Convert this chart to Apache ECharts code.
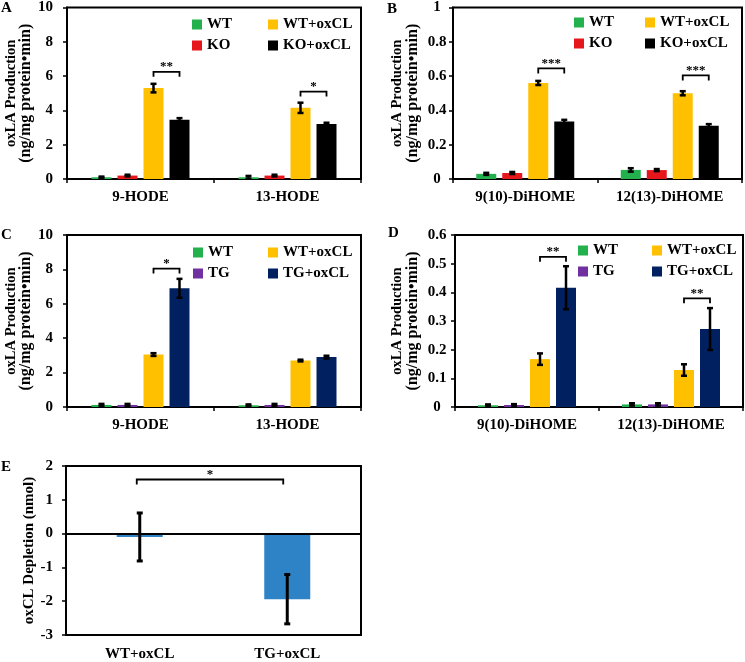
<!DOCTYPE html>
<html><head><meta charset="utf-8">
<script src="https://cdn.jsdelivr.net/npm/echarts@6/dist/echarts.min.js"></script>
<style>html,body{margin:0;padding:0;background:#fff}#c{width:745px;height:662px}</style>
</head><body><div id="c"></div>
<script>
const FONT = '"Liberation Serif","Times New Roman",serif';

// ---------- data ----------
const catsHODE = ['9-HODE', '13-HODE'];
const catsDiHOME = ['9(10)-DiHOME', '12(13)-DiHOME'];
const namesKO = ['WT', 'KO', 'WT+oxCL', 'KO+oxCL'];
const namesTG = ['WT', 'TG', 'WT+oxCL', 'TG+oxCL'];

// Panel A (ng/mg protein·min)
const aWT = [0.1, 0.1],   aWTerr = [0.04, 0.08];
const aKO = [0.2, 0.2],   aKOerr = [0.05, 0.05];
const aWTox = [5.3, 4.15], aWToxErr = [0.25, 0.3];
const aKOox = [3.45, 3.2], aKOoxErr = [0.1, 0.08];
const aSigCat = [0, 1], aSigY = [6.25, 5.1], aSigTxt = ['**', '*'];

// Panel B
const bWT = [0.03, 0.053],  bWTerr = [0.006, 0.01];
const bKO = [0.035, 0.052], bKOerr = [0.006, 0.006];
const bWTox = [0.56, 0.5],  bWToxErr = [0.012, 0.012];
const bKOox = [0.335, 0.31], bKOoxErr = [0.01, 0.01];
const bSigCat = [0, 1], bSigY = [0.645, 0.604], bSigTxt = ['***', '***'];

// Panel C
const cWT = [0.12, 0.1],  cWTerr = [0.06, 0.05];
const cTG = [0.12, 0.12], cTGerr = [0.06, 0.06];
const cWTox = [3.05, 2.7], cWToxErr = [0.08, 0.05];
const cTGox = [6.9, 2.9],  cTGoxErr = [0.55, 0.08];
const cSigCat = [0], cSigY = [8.05], cSigTxt = ['*'];

// Panel D
const dWT = [0.006, 0.009], dWTerr = [0.003, 0.004];
const dTG = [0.007, 0.009], dTGerr = [0.003, 0.004];
const dWTox = [0.167, 0.129], dWToxErr = [0.02, 0.02];
const dTGox = [0.416, 0.272], dTGoxErr = [0.075, 0.073];
const dSigCat = [0, 1], dSigY = [0.524, 0.379], dSigTxt = ['**', '**'];

// Panel E (nmol)
const eCats = ['WT+oxCL', 'TG+oxCL'];
const eVals = [-0.1, -1.94];
const eErr = [0.71, 0.73];
const eSigY = 1.6, eSigTxt = '*';

// ---------- styling ----------
const colKO = ['#22b14c', '#e5171c', '#ffc000', '#000000'];
const colTG = ['#22b14c', '#7030a0', '#ffc000', '#002060'];
const colE = '#2e83c6';

const grids = [
  {left: 67, top: 6, width: 294, height: 173},
  {left: 453, top: 6, width: 289, height: 173},
  {left: 67, top: 235, width: 294, height: 172},
  {left: 455, top: 235, width: 288, height: 172},
  {left: 66, top: 466, width: 295, height: 172}
].map(g => Object.assign(g, {show: true, borderColor: '#000', borderWidth: 2, backgroundColor: 'transparent'}));

const txt = {fontFamily: FONT, fontWeight: 'bold', color: '#000'};
const yName = '{a|oxLA Production}\n{b|(ng/mg protein•min)}';

const xAxes = [], yAxes = [], series = [];

function mkX(gi, cats, margin, ticks) {
  xAxes.push({
    type: 'category', gridIndex: gi, data: cats,
    axisLine: {onZero: false, lineStyle: {color: '#000', width: 2}},
    axisTick: {show: ticks, length: 4, lineStyle: {color: '#000', width: 1.5}},
    axisLabel: Object.assign({fontSize: 15, margin: margin}, txt),
    splitLine: {show: false}
  });
}
function mkY(gi, min, max, interval, name, nameGap, labelAlign, labelMargin) {
  yAxes.push({
    type: 'value', gridIndex: gi, min: min, max: max, interval: interval,
    name: name, nameLocation: 'middle', nameRotate: 90, nameGap: nameGap,
    nameTextStyle: Object.assign({fontSize: 14, lineHeight: 15,
      rich: {a: Object.assign({fontSize: 14.5, lineHeight: 15}, txt), b: Object.assign({fontSize: 16, lineHeight: 15}, txt)}}, txt),
    axisLine: {show: true, lineStyle: {color: '#000', width: 2}},
    axisTick: {show: true, length: 4, lineStyle: {color: '#000', width: 1.5}},
    axisLabel: Object.assign({fontSize: 15, margin: labelMargin, align: labelAlign}, txt),
    splitLine: {show: false}
  });
}

function errRender(offset, capW, lw) {
  return function (params, api) {
    const c = api.value(0), v = api.value(1), e = api.value(2);
    const t = api.coord([c, v + e]);
    const b = api.coord([c, v - e]);
    const x = t[0] + offset;
    const st = {stroke: '#000', lineWidth: lw};
    return {type: 'group', children: [
      {type: 'line', shape: {x1: x, y1: t[1], x2: x, y2: b[1]}, style: st},
      {type: 'line', shape: {x1: x - capW, y1: t[1], x2: x + capW, y2: t[1]}, style: st},
      {type: 'line', shape: {x1: x - capW, y1: b[1], x2: x + capW, y2: b[1]}, style: st}
    ]};
  };
}

function bracketGroup(x1, x2, yy, label) {
  return {type: 'group', children: [
    {type: 'polyline', shape: {points: [[x1, yy + 5], [x1, yy], [x2, yy], [x2, yy + 5]]},
     style: {stroke: '#000', fill: null, lineWidth: 1.8}},
    {type: 'text', style: {text: label, x: (x1 + x2) / 2, y: yy - 5, align: 'center', verticalAlign: 'middle',
      font: 'bold 13px ' + FONT, fill: '#000'}}
  ]};
}

function addPanel(gi, names, colors, vals, errs, sigCat, sigY, sigTxt) {
  const barW = 20, gap = 6, n = names.length, step = barW + gap;
  const offs = names.map((_, i) => (i - (n - 1) / 2) * step);
  names.forEach((nm, i) => {
    series.push({
      type: 'bar', name: nm, xAxisIndex: gi, yAxisIndex: gi,
      data: vals[i], barWidth: barW, barGap: (gap / barW * 100) + '%',
      itemStyle: {color: colors[i]}, z: 2
    });
    series.push({
      type: 'custom', name: 'err' + gi + '_' + i, xAxisIndex: gi, yAxisIndex: gi,
      data: vals[i].map((v, k) => [k, v, errs[i][k]]), encode: {x: 0, y: 1},
      renderItem: errRender(offs[i], 3, 2.5), z: 5, silent: true
    });
  });
  series.push({
    type: 'custom', name: 'sig' + gi, xAxisIndex: gi, yAxisIndex: gi,
    data: sigCat.map((c, k) => [c, sigY[k]]), encode: {x: 0, y: 1}, z: 6, silent: true,
    renderItem: function (params, api) {
      const p = api.coord([api.value(0), api.value(1)]);
      return bracketGroup(p[0] + offs[2], p[0] + offs[3], p[1], sigTxt[params.dataIndex]);
    }
  });
}

// Panel A
mkX(0, catsHODE, 11, true); mkY(0, 0, 10, 2, yName, 33, 'right', 14);
addPanel(0, namesKO, colKO, [aWT, aKO, aWTox, aKOox], [aWTerr, aKOerr, aWToxErr, aKOoxErr], aSigCat, aSigY, aSigTxt);
// Panel B
mkX(1, catsDiHOME, 11, true); mkY(1, 0, 1, 0.2, yName, 33, 'center', 16);
addPanel(1, namesKO, colKO, [bWT, bKO, bWTox, bKOox], [bWTerr, bKOerr, bWToxErr, bKOoxErr], bSigCat, bSigY, bSigTxt);
// Panel C
mkX(2, catsHODE, 11, true); mkY(2, 0, 10, 2, yName, 33, 'right', 14);
addPanel(2, namesTG, colTG, [cWT, cTG, cWTox, cTGox], [cWTerr, cTGerr, cWToxErr, cTGoxErr], cSigCat, cSigY, cSigTxt);
// Panel D
mkX(3, catsDiHOME, 11, true); mkY(3, 0, 0.6, 0.1, yName, 35, 'center', 18);
addPanel(3, namesTG, colTG, [dWT, dTG, dWTox, dTGox], [dWTerr, dTGerr, dWToxErr, dTGoxErr], dSigCat, dSigY, dSigTxt);
// Panel E
mkX(4, eCats, 12, false); mkY(4, -3, 2, 1, 'oxCL Depletion (nmol)', 28, 'right', 13);
yAxes[4].nameTextStyle = Object.assign({fontSize: 15}, txt);
series.push({
  type: 'bar', name: 'oxCL Depletion', xAxisIndex: 4, yAxisIndex: 4, data: eVals, barWidth: 46,
  itemStyle: {color: colE}, z: 2,
  markLine: {silent: true, symbol: 'none', label: {show: false}, data: [{yAxis: 0}],
    lineStyle: {color: '#000', width: 2, type: 'solid'}}
});
series.push({
  type: 'custom', name: 'errE', xAxisIndex: 4, yAxisIndex: 4,
  data: eVals.map((v, k) => [k, v, eErr[k]]), encode: {x: 0, y: 1},
  renderItem: errRender(0, 3, 3), z: 5, silent: true
});
series.push({
  type: 'custom', name: 'sigE', xAxisIndex: 4, yAxisIndex: 4, data: [[0, eSigY]], encode: {x: 0, y: 1},
  z: 6, silent: true,
  renderItem: function (params, api) {
    const p0 = api.coord([0, api.value(1)]);
    const p1 = api.coord([1, api.value(1)]);
    return bracketGroup(p0[0] - 3, p1[0] - 4, p0[1], eSigTxt);
  }
});

function lg(left, top, data) {
  return {left: left, top: top, orient: 'vertical', data: data, icon: 'rect', itemWidth: 10, itemHeight: 10,
    itemGap: 6, padding: 0, selectedMode: false,
    textStyle: Object.assign({fontSize: 15, lineHeight: 14}, txt)};
}
const legends = [
  lg(192, 17, ['WT', 'KO']), lg(268, 17, ['WT+oxCL', 'KO+oxCL']),
  lg(574, 15, ['WT', 'KO']), lg(645, 15, ['WT+oxCL', 'KO+oxCL']),
  lg(193, 245, ['WT', 'TG']), lg(268, 245, ['WT+oxCL', 'TG+oxCL']),
  lg(578, 243, ['WT', 'TG']), lg(652, 243, ['WT+oxCL', 'TG+oxCL'])
];

function letter(t, x, y) {
  return {type: 'text', x: x, y: y, style: {text: t, font: 'bold 15px ' + FONT, fill: '#000', verticalAlign: 'middle'}};
}

const chart = echarts.init(document.getElementById('c'), null, {renderer: 'canvas'});
chart.setOption({
  animation: false,
  backgroundColor: '#fff',
  grid: grids, xAxis: xAxes, yAxis: yAxes, legend: legends, series: series,
  graphic: [letter('A', 1, 8), letter('B', 387, 9), letter('C', 1, 235), letter('D', 388, 233), letter('E', 1, 467)]
});
</script></body></html>
